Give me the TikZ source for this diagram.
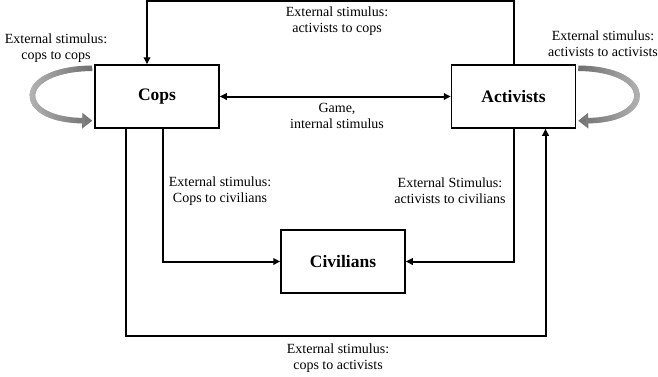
\documentclass[tikz,border=0pt]{standalone}
\usepackage{fontspec}
\setmainfont{Liberation Serif}
\usetikzlibrary{arrows.meta,fadings}
\tikzfading[name=fadetoright, left color=transparent!0, right color=transparent!100]
\tikzfading[name=fadetoleft, left color=transparent!100, right color=transparent!0]
\begin{document}
\begin{tikzpicture}[x=1pt,y=-1pt,
  box/.style={draw, line width=1.5pt, minimum width=124pt, minimum height=63pt, inner sep=0pt, font=\fontsize{17.5}{20}\selectfont\bfseries},
  lbl/.style={align=center, inner sep=0pt, font=\fontsize{14}{16}\selectfont},
  conn/.style={line width=2pt, -{Triangle[length=7pt,width=6.5pt]}},
  loopdark/.style={line width=5.5pt, draw=black!58, -{Triangle[length=10pt,width=15pt]}},
  looplight/.style={line width=5.5pt, draw=black!22, -{Triangle[length=10pt,width=15pt]}}]
\useasboundingbox (0,0) rectangle (658,376);
\node[box] (cops) at (157,96.5) {Cops};
\node[box] (act) at (513.5,96.5) {Activists};
\node[box] (civ) at (343,261.5) {Civilians};
% connectors
\draw[conn] (act.north) -- ++(0,-63) -| ([xshift=-10pt]cops.north);
\draw[line width=2pt, {Triangle[length=7pt,width=6.5pt]}-{Triangle[length=7pt,width=6.5pt]}] (cops.east) -- (act.west);
\draw[conn] ([xshift=6pt]cops.south) |- (civ.west);
\draw[conn] (act.south) |- (civ.east);
\draw[conn] ([xshift=-31pt]cops.south) -- ++(0,207) -| ([xshift=32pt]act.south);
% self loops
\coordinate (cl1) at ([shift={(-2,4)}]cops.north west);
\coordinate (cl2) at ([shift={(-2,-8)}]cops.south west);
\draw[loopdark] (cl1) .. controls (14,69) and (14,120) .. (cl2);
\draw[looplight, path fading=fadetoright] (cl1) .. controls (14,69) and (14,120) .. (cl2);
\coordinate (al1) at ([shift={(2,4)}]act.north east);
\coordinate (al2) at ([shift={(2,-8)}]act.south east);
\draw[loopdark] (al1) .. controls (655,69) and (655,120) .. (al2);
\draw[looplight, path fading=fadetoleft] (al1) .. controls (655,69) and (655,120) .. (al2);
% labels
\node[lbl] (ltop) at (337,21) {External stimulus:\\activists to cops};
\node[lbl] (lgame) at (337,116) {Game,\\internal stimulus};
\node[lbl] (lcc) at (56,48) {External stimulus:\\cops to cops};
\node[lbl] (laa) at (603,44) {External stimulus:\\activists to activists};
\node[lbl] (lciv1) at (220,191) {External stimulus:\\Cops to civilians};
\node[lbl] (lciv2) at (450,191) {External Stimulus:\\activists to civilians};
\node[lbl] (lbot) at (338,358) {External stimulus:\\cops to activists};
\end{tikzpicture}
\end{document}
